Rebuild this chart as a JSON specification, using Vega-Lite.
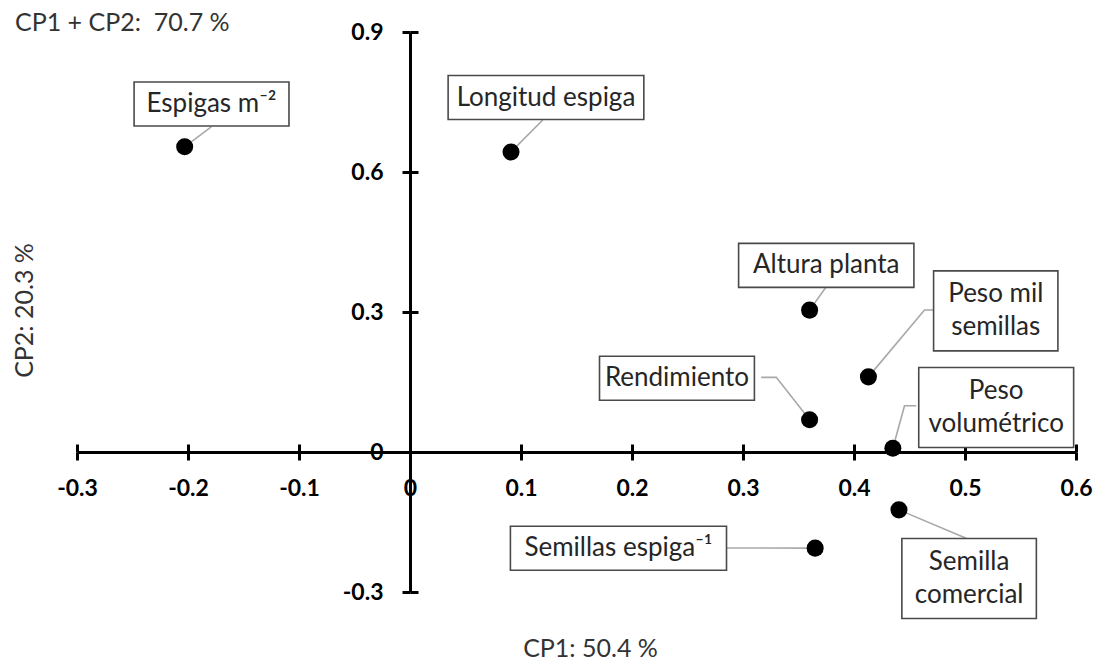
{
  "$schema": "https://vega.github.io/schema/vega-lite/v6.json",
  "width": 999,
  "height": 560,
  "autosize": "none",
  "padding": {"left": 77, "top": 32, "right": 22, "bottom": 70},
  "background": "white",
  "title": {
    "text": "CP1 + CP2:\u00a0 70.7 %",
    "anchor": "start",
    "frame": "group",
    "orient": "top",
    "offset": 0,
    "dx": -62,
    "dy": 27,
    "baseline": "middle",
    "font": "Lato",
    "fontSize": 25,
    "fontWeight": "normal",
    "color": "#333333"
  },
  "datasets": {
    "pts": [
      {"variable": "Espigas m⁻²", "x": -0.203, "y": 0.654},
      {"variable": "Longitud espiga", "x": 0.091, "y": 0.643},
      {"variable": "Altura planta", "x": 0.360, "y": 0.304},
      {"variable": "Peso mil semillas", "x": 0.413, "y": 0.161},
      {"variable": "Rendimiento", "x": 0.360, "y": 0.069},
      {"variable": "Peso volumétrico", "x": 0.435, "y": 0.008},
      {"variable": "Semilla comercial", "x": 0.4405, "y": -0.124},
      {"variable": "Semillas espiga⁻¹", "x": 0.365, "y": -0.206}
    ],
    "labels": [
      {"variable": "Espigas m⁻²", "lines": ["Espigas m⁻²"], "x": -0.1788, "y": 0.7457},
      {"variable": "Longitud espiga", "lines": ["Longitud espiga"], "x": 0.1225, "y": 0.7596},
      {"variable": "Altura planta", "lines": ["Altura planta"], "x": 0.375, "y": 0.400},
      {"variable": "Peso mil semillas", "lines": ["Peso mil", "semillas"], "x": 0.5277, "y": 0.3025},
      {"variable": "Rendimiento", "lines": ["Rendimiento"], "x": 0.2405, "y": 0.1579},
      {"variable": "Peso volumétrico", "lines": ["Peso", "volumétrico"], "x": 0.5281, "y": 0.0954},
      {"variable": "Semilla comercial", "lines": ["Semilla", "comercial"], "x": 0.5037, "y": -0.2711},
      {"variable": "Semillas espiga⁻¹", "lines": ["Semillas espiga⁻¹"], "x": 0.1878, "y": -0.2063}
    ],
    "leaders": [
      {"variable": "Espigas m⁻²", "ord": 1, "x": -0.1788, "y": 0.697},
      {"variable": "Espigas m⁻²", "ord": 2, "x": -0.203, "y": 0.654},
      {"variable": "Longitud espiga", "ord": 1, "x": 0.1196, "y": 0.7114},
      {"variable": "Longitud espiga", "ord": 2, "x": 0.091, "y": 0.643},
      {"variable": "Altura planta", "ord": 1, "x": 0.375, "y": 0.3542},
      {"variable": "Altura planta", "ord": 2, "x": 0.360, "y": 0.304},
      {"variable": "Peso mil semillas", "ord": 1, "x": 0.475, "y": 0.3043},
      {"variable": "Peso mil semillas", "ord": 2, "x": 0.4635, "y": 0.3043},
      {"variable": "Peso mil semillas", "ord": 3, "x": 0.413, "y": 0.161},
      {"variable": "Rendimiento", "ord": 1, "x": 0.3164, "y": 0.160},
      {"variable": "Rendimiento", "ord": 2, "x": 0.330, "y": 0.160},
      {"variable": "Rendimiento", "ord": 3, "x": 0.360, "y": 0.069},
      {"variable": "Peso volumétrico", "ord": 1, "x": 0.456, "y": 0.0992},
      {"variable": "Peso volumétrico", "ord": 2, "x": 0.4455, "y": 0.0992},
      {"variable": "Peso volumétrico", "ord": 3, "x": 0.435, "y": 0.008},
      {"variable": "Semilla comercial", "ord": 1, "x": 0.501, "y": -0.185},
      {"variable": "Semilla comercial", "ord": 2, "x": 0.4405, "y": -0.124},
      {"variable": "Semillas espiga⁻¹", "ord": 1, "x": 0.2822, "y": -0.2057},
      {"variable": "Semillas espiga⁻¹", "ord": 2, "x": 0.365, "y": -0.206}
    ]
  },
  "resolve": {"axis": {"x": "independent", "y": "independent"}},
  "layer": [
    {
      "data": {"name": "pts"},
      "mark": {"type": "circle", "size": 10, "opacity": 0},
      "encoding": {
        "x": {
          "field": "x", "type": "quantitative",
          "scale": {"domain": [-0.3, 0.6], "nice": false, "zero": false},
          "axis": {
            "title": null, "orient": "top", "offset": -420,
            "values": [-0.3, -0.2, -0.1, 0, 0.1, 0.2, 0.3, 0.4, 0.5, 0.6],
            "labels": false, "domain": false, "grid": false,
            "tickColor": "black", "tickWidth": 3, "tickSize": 8
          }
        },
        "y": {
          "field": "y", "type": "quantitative",
          "scale": {"domain": [-0.3, 0.9], "nice": false, "zero": false},
          "axis": {
            "title": null, "orient": "right", "offset": -666,
            "values": [-0.3, 0, 0.3, 0.6, 0.9],
            "labels": false, "domain": false, "grid": false,
            "tickColor": "black", "tickWidth": 3, "tickSize": 8
          }
        }
      }
    },
    {
      "data": {"name": "leaders"},
      "mark": {"type": "line", "color": "#a8a8a8", "strokeWidth": 1.6},
      "encoding": {
        "x": {"field": "x", "type": "quantitative", "axis": null},
        "y": {"field": "y", "type": "quantitative", "axis": null},
        "detail": {"field": "variable"},
        "order": {"field": "ord"}
      }
    },
    {
      "data": {"name": "labels"},
      "transform": [
        {"calculate": "datum.lines.length > 1 ? max(length(datum.lines[0]), length(datum.lines[1])) : length(datum.lines[0])", "as": "n"},
        {"calculate": "10.2 * datum.n + 42.7", "as": "wpx"},
        {"calculate": "datum.lines.length > 1 ? 80 : 44", "as": "hpx"},
        {"calculate": "datum.x - datum.wpx / 2 / 1110", "as": "bx1"},
        {"calculate": "datum.x + datum.wpx / 2 / 1110", "as": "bx2"},
        {"calculate": "datum.y - datum.hpx / 2 / 466.67", "as": "by1"},
        {"calculate": "datum.y + datum.hpx / 2 / 466.67", "as": "by2"}
      ],
      "mark": {"type": "rect", "fill": "white", "stroke": "#4a4a4a", "strokeWidth": 1.6},
      "encoding": {
        "x": {"field": "bx1", "type": "quantitative", "axis": null},
        "x2": {"field": "bx2"},
        "y": {"field": "by1", "type": "quantitative", "axis": null},
        "y2": {"field": "by2"}
      }
    },
    {
      "data": {"name": "labels"},
      "transform": [
        {"calculate": "datum.y + (datum.lines.length - 1) * 33 / 2 / 466.67", "as": "ty"}
      ],
      "mark": {"type": "text", "font": "Lato", "fontSize": 26, "lineHeight": 33, "align": "center", "baseline": "middle", "color": "#262626"},
      "encoding": {
        "x": {"field": "x", "type": "quantitative", "axis": null},
        "y": {"field": "ty", "type": "quantitative", "axis": null},
        "text": {"field": "lines"}
      }
    },
    {
      "data": {"name": "pts"},
      "mark": {"type": "circle", "size": 290, "color": "black", "opacity": 1},
      "encoding": {
        "x": {
          "field": "x", "type": "quantitative",
          "axis": {
            "title": "CP1: 50.4 %",
            "orient": "bottom",
            "offset": -140,
            "values": [-0.3, -0.2, -0.1, 0, 0.1, 0.2, 0.3, 0.4, 0.5, 0.6],
            "labelExpr": "'' + datum.value",
            "grid": false,
            "domainColor": "black", "domainWidth": 3,
            "tickColor": "black", "tickWidth": 3, "tickSize": 8,
            "labelFont": "Lato", "labelFontSize": 23, "labelFontWeight": "bold", "labelColor": "black",
            "labelPadding": 17, "labelOverlap": false, "labelBound": false, "labelFlush": false,
            "titleFont": "Lato", "titleFontSize": 25, "titleFontWeight": "normal", "titleColor": "#333333",
            "titleX": 513, "titleY": 196, "titleAlign": "center", "titleBaseline": "middle", "titleAngle": 0
          }
        },
        "y": {
          "field": "y", "type": "quantitative",
          "axis": {
            "title": "CP2: 20.3 %",
            "orient": "left",
            "offset": -333,
            "values": [-0.3, 0, 0.3, 0.6, 0.9],
            "labelExpr": "'' + datum.value",
            "grid": false,
            "domainColor": "black", "domainWidth": 3,
            "tickColor": "black", "tickWidth": 3, "tickSize": 8,
            "labelFont": "Lato", "labelFontSize": 23, "labelFontWeight": "bold", "labelColor": "black",
            "labelPadding": 19, "labelOverlap": false, "labelBound": false, "labelFlush": false,
            "titleFont": "Lato", "titleFontSize": 25, "titleFontWeight": "normal", "titleColor": "#333333",
            "titleX": -386, "titleY": 278, "titleAlign": "center", "titleBaseline": "middle", "titleAngle": -90
          }
        }
      }
    }
  ],
  "config": {
    "view": {"stroke": null},
    "font": "Lato"
  }
}
